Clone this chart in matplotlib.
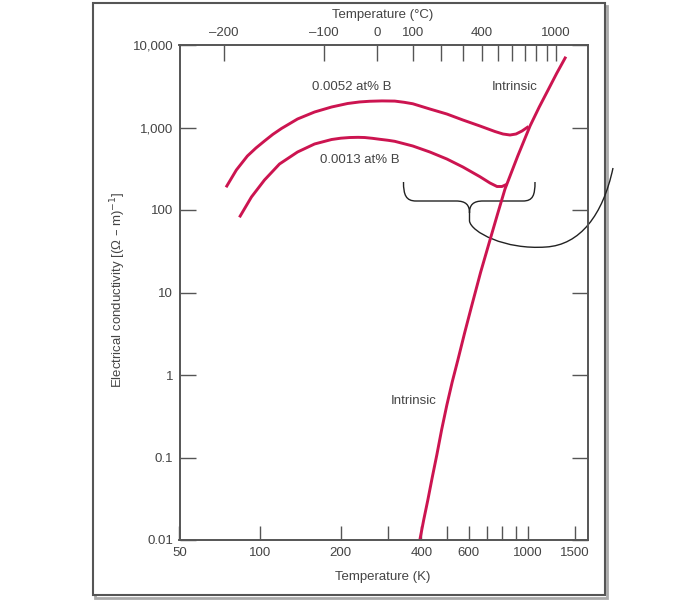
import matplotlib
matplotlib.use("Agg")
import matplotlib.pyplot as plt
from matplotlib.path import Path
from matplotlib.patches import PathPatch, Rectangle
from matplotlib.transforms import Affine2D
from matplotlib.ticker import NullLocator

# values (temperature in K, conductivity in (ohm m)^-1)
temp_intrinsic = [394.5, 408, 422.6, 439, 456.5, 476, 497.7, 521, 547.1, 580, 614.5,
                  665, 721.0, 770, 820.4, 915, 1017.4, 1100, 1188, 1280, 1384]
sigma_intrinsic = [0.01, 0.0176, 0.0305, 0.0575, 0.1072, 0.218, 0.4329, 0.82, 1.520, 3.25, 6.672,
                   17.5, 43.29, 90, 179.7, 450, 1043, 1760, 2848, 4550, 7214]

temp_b52 = [74.6, 81.5, 89.6, 96.5, 103.8, 111.5, 120.1, 137.9, 159.6, 184.8, 212.1, 235, 256.4,
            285, 318.0, 345, 371.3, 430.0, 497.7, 571.2, 661.4, 752.4, 806.3, 856.5, 901.9,
            949.6, 1004.4]
sigma_b52 = [188.5, 305.3, 451.2, 565, 686.1, 825, 972.5, 1268, 1541, 1772, 1954, 2040, 2080,
             2100, 2090, 2020, 1940, 1676, 1457, 1233, 1043, 894.4, 834.0, 811.1, 834.0,
             907.1, 1028]

temp_b13 = [83.7, 92.8, 103.8, 118.1, 137.9, 159.6, 184.8, 200, 215.8, 232, 245.6, 262, 279.4,
            300, 318.0, 371.3, 430.0, 497.7, 571.2, 661.4, 721.0, 765.8, 799.2, 834.3]
sigma_b13 = [81.5, 143.8, 231.0, 361.1, 504.7, 631.0, 715.2, 742, 756, 760, 756, 740, 720,
             700, 680, 596.9, 504.7, 415.1, 332.0, 253.3, 212.5, 192.7, 192.7, 205.0]

k_ticks = [50, 100, 200, 300, 400, 500, 600, 700, 800, 900, 1000, 1500]
k_labels = ["50", "100", "200", "", "400", "", "600", "", "", "", "1000", "1500"]
c_ticks = [-200, -100, 0, 100, 200, 300, 400, 500, 600, 700, 800, 900, 1000]
c_labels = ["\u2013200", "\u2013100", "0", "100", "", "", "400", "", "", "", "", "", "1000"]
sigma_ticks = [0.01, 0.1, 1, 10, 100, 1000, 10000]
sigma_labels = ["0.01", "0.1", "1", "10", "100", "1,000", "10,000"]

RED = "#cc1450"
INK = "#444444"
AXC = "#555555"
W, H = 700, 607

plt.rcParams["font.family"] = ["Liberation Sans", "DejaVu Sans"]

fig = plt.figure(figsize=(W / 100, H / 100), dpi=100)
px = Affine2D().scale(1 / W, -1 / H).translate(0, 1) + fig.transFigure

ax = fig.add_axes([179.5 / W, 1 - 540 / H, 408.2 / W, 495 / H])
ax.set_xscale("log")
ax.set_yscale("log")
ax.set_xlim(50, 1670)
ax.set_ylim(0.01, 10000)

for t, s in [(temp_intrinsic, sigma_intrinsic), (temp_b52, sigma_b52), (temp_b13, sigma_b13)]:
    ax.plot(t, s, color=RED, lw=2.1, solid_joinstyle="round", solid_capstyle="butt")

ax.set_xticks(k_ticks, k_labels)
ax.set_yticks(sigma_ticks, sigma_labels)
ax.xaxis.set_minor_locator(NullLocator())
ax.yaxis.set_minor_locator(NullLocator())
ax.tick_params(axis="x", direction="in", length=10, width=1, color=AXC,
               labelsize=9.5, labelcolor=INK, pad=5)
ax.tick_params(axis="y", direction="in", length=11.5, width=1, color=AXC,
               labelsize=9.5, labelcolor=INK, pad=4.5, right=True)

ax2 = ax.twiny()
ax2.set_xscale("log")
ax2.set_xlim(ax.get_xlim())
ax2.set_xticks([c + 273.15 for c in c_ticks], c_labels)
ax2.xaxis.set_minor_locator(NullLocator())
ax2.tick_params(axis="x", direction="in", length=11.5, width=1, color=AXC,
                labelsize=9.5, labelcolor=INK, pad=4.5)

for a in (ax, ax2):
    for sp in a.spines.values():
        sp.set_color(AXC)
        sp.set_linewidth(1.2)


def px_text(x, y, s, **kw):
    kw.setdefault("color", INK)
    kw.setdefault("fontsize", 9.5)
    fig.text(x, y, s, transform=px, ha="center", va="center", **kw)


px_text(383, 15, "Temperature (\u00b0C)")
px_text(383, 577, "Temperature (K)")
px_text(118, 290, "Electrical conductivity [(\u03a9 \u2013 m)$^{-1}$]", rotation=90)
px_text(352, 87, "0.0052 at% B")
px_text(360, 160, "0.0013 at% B")
px_text(515, 87, "Intrinsic")
px_text(414, 401, "Intrinsic")

# curly brace with its leader line
brace = [
    (Path.MOVETO, (403.5, 182)), (Path.CURVE4, (403.5, 195)), (Path.CURVE4, (406, 201)),
    (Path.CURVE4, (416, 201)), (Path.LINETO, (456, 201)), (Path.CURVE4, (466, 201)),
    (Path.CURVE4, (469.5, 205)), (Path.CURVE4, (469.5, 213)),
    (Path.CURVE4, (469.5, 205)), (Path.CURVE4, (473, 201)), (Path.CURVE4, (483, 201)),
    (Path.LINETO, (523, 201)), (Path.CURVE4, (533, 201)), (Path.CURVE4, (535, 195)),
    (Path.CURVE4, (535, 182)),
    (Path.MOVETO, (469.5, 213)), (Path.LINETO, (469.5, 221)),
    (Path.CURVE4, (471, 232)), (Path.CURVE4, (505, 250)), (Path.CURVE4, (546, 247)),
    (Path.CURVE4, (580, 245)), (Path.CURVE4, (603, 215)), (Path.CURVE4, (613, 168)),
]
codes, verts = zip(*brace)
fig.add_artist(PathPatch(Path(verts, codes), transform=px, fill=False,
                         ec="#222222", lw=1.0, clip_on=False))

# page frame with shadow
fig.add_artist(Rectangle((95, 6), 512, 592, transform=px, fill=False,
                         ec="#aaaaaa", lw=2, clip_on=False, zorder=0))
fig.add_artist(Rectangle((93, 3), 512, 592, transform=px, fc="white",
                         ec="#555555", lw=1.5, clip_on=False, zorder=0.5))
ax.set_zorder(2)
ax2.set_zorder(2)
ax.patch.set_alpha(0)

fig.savefig("out.png", dpi=100)
